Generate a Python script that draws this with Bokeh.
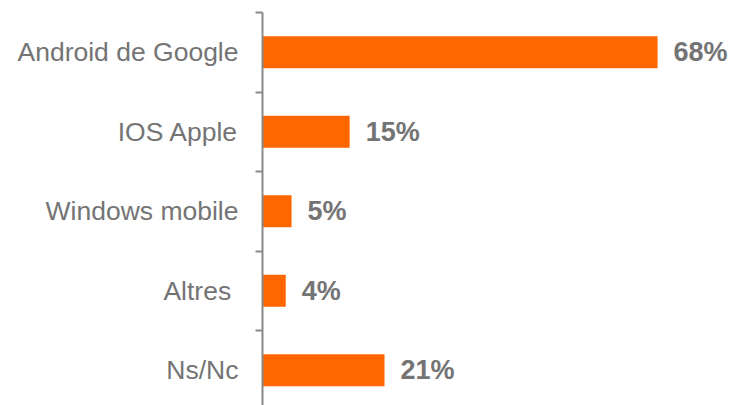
from bokeh.plotting import figure
from bokeh.models import Range1d, FixedTicker, ColumnDataSource
from bokeh.core.properties import value
from bokeh.embed import file_html
from bokeh.resources import INLINE

categories = ["Android de Google", "IOS Apple", "Windows mobile", "Altres ", "Ns/Nc"]
values = [68, 15, 5, 4, 21]
value_labels = ["68%", "15%", "5%", "4%", "21%"]

n = len(categories)
ypos = [n - i - 0.5 for i in range(n)]

src = ColumnDataSource(dict(y=ypos, v=values, lab=value_labels, cat=categories))

px_per_unit = 5.81
frame_w = 731 - 262
frame_h = 405 - 12
p = figure(width=731, height=405, output_backend="svg", toolbar_location=None,
           x_range=Range1d(0, frame_w / px_per_unit),
           y_range=Range1d(n - frame_h / 79.5, n),
           x_axis_location=None,
           min_border_left=262, min_border_right=0, min_border_top=12, min_border_bottom=0)
p.outline_line_color = None
p.grid.visible = False
p.background_fill_color = "white"
p.border_fill_color = "white"

p.hbar(y="y", right="v", left=0, height=0.4, source=src, color="#FF6600", line_color=None)

p.text(x="v", y="y", text="lab", source=src, x_offset=16,
       text_font=value("Liberation Sans"), text_font_size="27px", text_font_style="bold",
       text_color="#747474", text_baseline="middle", text_align="left")

ax = p.yaxis[0]
ax.ticker = FixedTicker(ticks=ypos, minor_ticks=[float(i) for i in range(1, n + 1)])
ax.major_label_overrides = {y: c for y, c in zip(ypos, categories)}
ax.major_tick_line_color = None
ax.major_tick_out = 0
ax.major_tick_in = 0
ax.minor_tick_out = 7
ax.minor_tick_in = 0
ax.minor_tick_line_color = "#888888"
ax.minor_tick_line_width = 2
ax.axis_line_color = "#888888"
ax.axis_line_width = 2
ax.major_label_standoff = 17
ax.major_label_text_font = "Liberation Sans"
ax.major_label_text_font_size = "26.5px"
ax.major_label_text_color = "#747474"

open("out.html", "w").write(file_html(p, INLINE))
